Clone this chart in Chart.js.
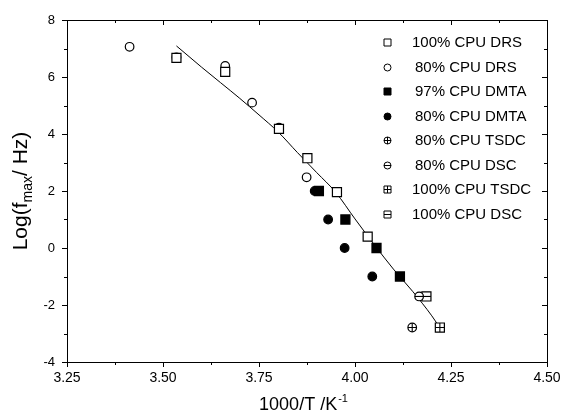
<!DOCTYPE html>
<html>
<head>
<meta charset="utf-8">
<script src="https://cdn.jsdelivr.net/npm/chart.js@4.4.1/dist/chart.umd.min.js"></script>
<style>
  html, body { margin: 0; padding: 0; background: #fff; }
  #wrap { width: 562px; height: 417px; }
</style>
</head>
<body>
<div id="wrap"><canvas id="chart" width="562" height="417"></canvas></div>
<script>
// Data (x = 1000/T in K^-1, y = log f_max)
const drs100X = [3.535, 3.662, 3.802, 3.876, 3.953, 4.033];
const drs100Y = [6.67, 6.18, 4.18, 3.15, 1.96, 0.40];
const drs80X = [3.413, 3.535, 3.662, 3.732, 3.802, 3.874];
const drs80Y = [7.06, 6.69, 6.39, 5.10, 4.22, 2.48];
const dmta97X = [3.906, 3.975, 4.056, 4.117];
const dmta97Y = [2.0, 1.0, 0.0, -1.0];
const dmta80X = [3.895, 3.930, 3.973, 4.045];
const dmta80Y = [2.0, 1.0, 0.0, -1.0];
const tsdc80X = [4.149];
const tsdc80Y = [-2.79];
const dsc80X = [4.167];
const dsc80Y = [-1.70];
const tsdc100X = [4.221];
const tsdc100Y = [-2.79];
const dsc100X = [4.186];
const dsc100Y = [-1.70];
// fitted curve, points
const fitX = [3.535, 3.60, 3.65, 3.70, 3.75, 3.80, 3.85, 3.90, 3.95, 4.00, 4.05, 4.10, 4.15, 4.20, 4.215];
const fitY = [7.09, 6.35, 5.80, 5.25, 4.67, 4.07, 3.35, 2.65, 1.95, 1.02, 0.12, -0.74, -1.52, -2.38, -2.68];

const seriesLabels = ['100% CPU DRS', '80% CPU DRS', '97% CPU DMTA', '80% CPU DMTA',
  '80% CPU TSDC', '80% CPU DSC', '100% CPU TSDC', '100% CPU DSC'];
const xTicks = [3.25, 3.50, 3.75, 4.00, 4.25, 4.50];
const yTicks = [-4, -2, 0, 2, 4, 6, 8];

function toPoints(xs, ys) {
  return xs.map((x, i) => ({ x: x, y: ys[i] }));
}

const kinds = ['square', 'circle', 'squareFill', 'circleFill', 'circlePlus', 'circleMinus', 'squarePlus', 'squareMinus'];

const seriesData = [
  toPoints(drs100X, drs100Y), toPoints(drs80X, drs80Y),
  toPoints(dmta97X, dmta97Y), toPoints(dmta80X, dmta80Y),
  toPoints(tsdc80X, tsdc80Y), toPoints(dsc80X, dsc80Y),
  toPoints(tsdc100X, tsdc100Y), toPoints(dsc100X, dsc100Y)
];

const datasets = [{
  label: 'fit',
  data: toPoints(fitX, fitY),
  showLine: true,
  borderColor: '#000',
  borderWidth: 1,
  pointRadius: 0,
  cubicInterpolationMode: 'monotone',
  order: 10
}];
seriesData.forEach((d, i) => {
  const k = kinds[i];
  const isSquare = k.indexOf('square') === 0;
  datasets.push({
    label: seriesLabels[i],
    data: d,
    showLine: false,
    borderColor: '#000',
    borderWidth: 1.2,
    backgroundColor: k.endsWith('Fill') ? '#000' : '#fff',
    pointStyle: isSquare ? 'rect' : 'circle',
    pointRadius: isSquare ? 6.4 : 4.3,
    order: 2
  });
  // inner + or - of the TSDC / DSC symbols
  if (k.endsWith('Plus') || k.endsWith('Minus')) {
    datasets.push({
      label: seriesLabels[i] + ' mark',
      data: d,
      showLine: false,
      borderColor: '#000',
      borderWidth: 1.1,
      pointStyle: k.endsWith('Plus') ? 'cross' : 'line',
      pointRadius: isSquare ? 4.5 : 4.3,
      order: 1
    });
  }
});

// legend marker drawn at integer pixel positions
function legendMarker(ctx, k, cx, cy) {
  const h = 3.5;
  ctx.beginPath();
  if (k.indexOf('circle') === 0) ctx.arc(cx, cy, h, 0, Math.PI * 2);
  else ctx.rect(cx - h, cy - h, h * 2, h * 2);
  if (k.endsWith('Fill')) ctx.fill();
  ctx.stroke();
  if (k.endsWith('Plus') || k.endsWith('Minus')) {
    ctx.beginPath();
    ctx.moveTo(cx - h, cy);
    ctx.lineTo(cx + h, cy);
    if (k.endsWith('Plus')) {
      ctx.moveTo(cx, cy - h);
      ctx.lineTo(cx, cy + h);
    }
    ctx.stroke();
  }
}

// frame, tick marks, axis titles and legend
const decor = {
  id: 'decor',
  afterDraw(chart) {
    const ctx = chart.ctx;
    const a = chart.chartArea;
    const xs = chart.scales.x, ys = chart.scales.y;
    ctx.save();
    ctx.strokeStyle = '#000';
    ctx.lineWidth = 1;
    ctx.strokeRect(Math.round(a.left) + 0.5, Math.round(a.top) + 0.5,
      Math.round(a.right - a.left), Math.round(a.bottom - a.top));
    ctx.beginPath();
    for (let i = 0; i <= 10; i++) {
      const px = Math.round(xs.getPixelForValue(3.25 + i * 0.125)) + 0.5;
      const len = i % 2 === 0 ? 5 : 3;
      ctx.moveTo(px, a.bottom);
      ctx.lineTo(px, a.bottom + len);
      ctx.moveTo(px, a.top);
      ctx.lineTo(px, a.top + len);
    }
    for (let v = -4; v <= 8; v++) {
      const py = Math.round(ys.getPixelForValue(v)) + 0.5;
      const len = v % 2 === 0 ? 5 : 3;
      ctx.moveTo(a.left, py);
      ctx.lineTo(a.left - len, py);
      ctx.moveTo(a.right, py);
      ctx.lineTo(a.right - len, py);
    }
    ctx.stroke();

    ctx.fillStyle = '#000';
    ctx.textBaseline = 'alphabetic';
    // x title: 1000/T /K^-1
    const xMain = '1000/T /K';
    ctx.font = '18px Arial, "Liberation Sans", sans-serif';
    const w1 = ctx.measureText(xMain).width;
    ctx.font = '11px Arial, "Liberation Sans", sans-serif';
    const w2 = ctx.measureText('-1').width;
    const tx = (a.left + a.right) / 2 - (w1 + w2) / 2 - 4;
    const ty = 410;
    ctx.font = '18px Arial, "Liberation Sans", sans-serif';
    ctx.fillText(xMain, tx, ty);
    ctx.font = '11px Arial, "Liberation Sans", sans-serif';
    ctx.fillText('-1', tx + w1 + 1, ty - 8);

    // y title: Log(f_max / Hz)
    ctx.save();
    ctx.translate(27, (a.top + a.bottom) / 2);
    ctx.rotate(-Math.PI / 2);
    const big = '21px Arial, "Liberation Sans", sans-serif';
    const small = '14px Arial, "Liberation Sans", sans-serif';
    ctx.font = big;
    const p1 = 'Log(f', p3 = '/ Hz)';
    const wa = ctx.measureText(p1).width, wc = ctx.measureText(p3).width;
    ctx.font = small;
    const wb = ctx.measureText('max').width;
    const sx = -(wa + wb + wc) / 2;
    ctx.font = big;
    ctx.fillText(p1, sx, 0);
    ctx.font = small;
    ctx.fillText('max', sx + wa, 5);
    ctx.font = big;
    ctx.fillText(p3, sx + wa + wb, 0);
    ctx.restore();

    // legend inside plot area
    ctx.font = '15px Arial, "Liberation Sans", sans-serif';
    ctx.textBaseline = 'middle';
    ctx.lineWidth = 1;
    seriesLabels.forEach((lab, i) => {
      const cy = Math.round(42 + i * 24.5) + 0.5;
      legendMarker(ctx, kinds[i], 387.5, cy);
      ctx.fillText(lab, lab.startsWith('100') ? 412 : 415, cy);
    });
    ctx.restore();
  }
};

new Chart(document.getElementById('chart'), {
  type: 'scatter',
  data: { datasets: datasets },
  options: {
    responsive: false,
    animation: false,
    devicePixelRatio: 1,
    layout: { padding: { top: 20, right: 15, left: 0, bottom: 0 } },
    plugins: {
      legend: { display: false },
      tooltip: { enabled: false }
    },
    scales: {
      x: {
        type: 'linear',
        min: 3.25,
        max: 4.5,
        afterBuildTicks: s => { s.ticks = xTicks.map(v => ({ value: v })); },
        afterFit: s => { s.height = 55; s.paddingLeft = 0; s.paddingRight = 0; },
        grid: { display: false, drawTicks: false },
        border: { display: false },
        ticks: {
          callback: v => Number(v).toFixed(2),
          font: { size: 14, family: 'Arial, "Liberation Sans", sans-serif' },
          color: '#000',
          padding: 8,
          maxRotation: 0
        }
      },
      y: {
        type: 'linear',
        min: -4,
        max: 8,
        afterBuildTicks: s => { s.ticks = yTicks.map(v => ({ value: v })); },
        afterFit: s => { s.width = 67; s.paddingTop = 0; s.paddingBottom = 0; },
        grid: { display: false, drawTicks: false },
        border: { display: false },
        ticks: {
          callback: v => String(v),
          font: { size: 13, family: 'Arial, "Liberation Sans", sans-serif' },
          color: '#000',
          padding: 12
        }
      }
    }
  },
  plugins: [decor]
});
</script>
</body>
</html>
